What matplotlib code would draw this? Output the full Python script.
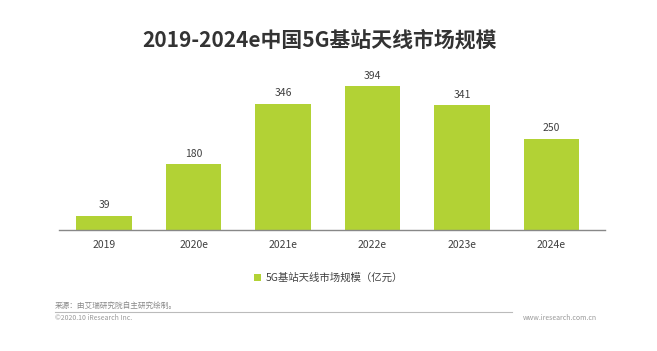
import numpy as np
import matplotlib.pyplot as plt

plt.rcParams['font.family'] = ['Noto Sans CJK SC', 'DejaVu Sans']

# data
years = ['2019', '2020e', '2021e', '2022e', '2023e', '2024e']
market = [39, 180, 346, 394, 341, 250]

green = '#b2d235'
fig = plt.figure(figsize=(6.57, 3.51), dpi=100)
ax = fig.add_axes([0.0903, 0.3447, 0.831, 0.484])

x = np.arange(len(years))
bars = ax.bar(x, market, width=0.62, color=green, label='5G基站天线市场规模（亿元）')
for xi, v in zip(x, market):
    ax.text(xi, v + 15, str(v), ha='center', va='bottom', fontsize=7.5, color='#404040')

ax.set_xlim(-0.5, 5.6)
ax.set_ylim(0, 465)
ax.set_xticks(x)
ax.set_xticklabels(years, fontsize=7.5, color='#404040')
ax.tick_params(axis='x', length=0, pad=7)
ax.set_yticks([])
for s in ['top', 'right', 'left']:
    ax.spines[s].set_visible(False)
ax.spines['bottom'].set_color('#888888')
ax.spines['bottom'].set_linewidth(1)

fig.text(0.487, 0.885, '2019-2024e中国5G基站天线市场规模', ha='center', va='center',
         fontsize=15, fontweight='bold', color='#333333')

fig.legend(loc='center', bbox_to_anchor=(0.5, 0.208), frameon=False, fontsize=7.5,
           handlelength=0.7, handleheight=0.7, labelcolor='#404040', handletextpad=0.4)

fig.text(0.084, 0.128, '来源：由艾瑞研究院自主研究绘制。', fontsize=5.5, color='#888888', va='center')
fig.add_artist(plt.Line2D([0.084, 0.78], [0.112, 0.112], color='#bbbbbb', lw=0.8))
fig.text(0.084, 0.093, '©2020.10 iResearch Inc.', fontsize=5, color='#999999', va='center')
fig.text(0.909, 0.093, 'www.iresearch.com.cn', fontsize=5, color='#999999', va='center', ha='right')

fig.savefig('out.png', dpi=100)
